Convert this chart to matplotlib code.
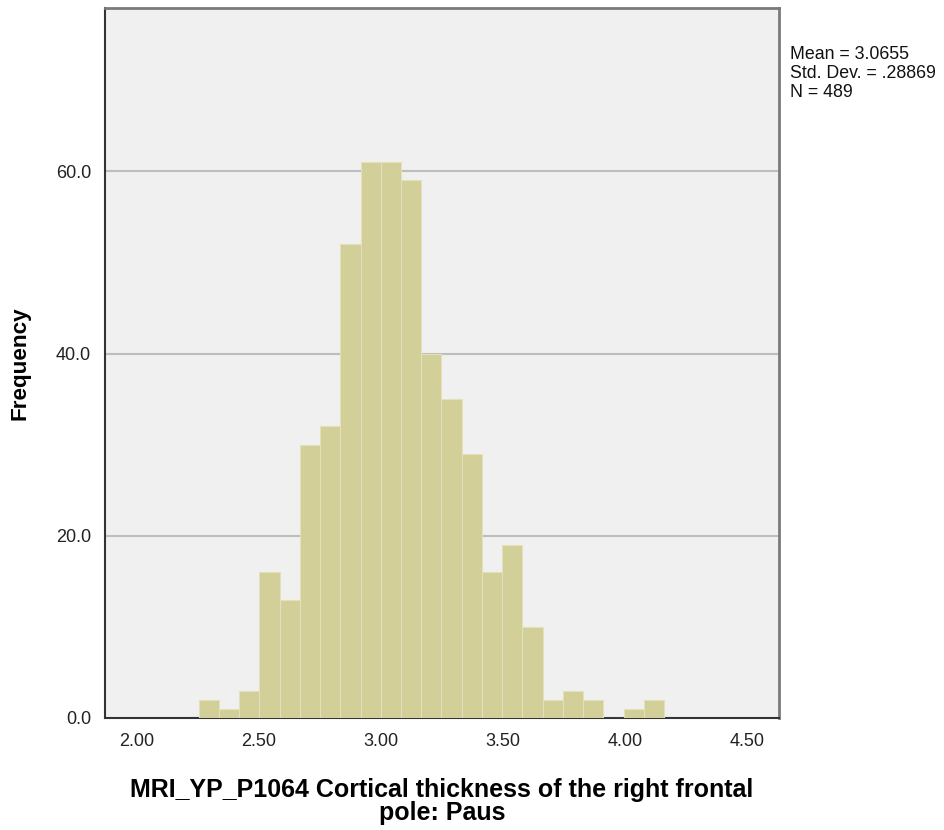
import matplotlib
matplotlib.use("Agg")
import matplotlib.pyplot as plt
import numpy as np

plt.rcParams['font.family'] = ['Liberation Sans', 'DejaVu Sans']

# Histogram data
bin_start = 2.254
bin_width = 0.0829
counts = [2, 1, 3, 16, 13, 30, 32, 52, 61, 61, 59, 40, 35, 29, 16, 19, 10, 2, 3, 2, 0, 1, 2]
x_ticks = [2.00, 2.50, 3.00, 3.50, 4.00, 4.50]
y_ticks = [0, 20, 40, 60]
stats_text = "Mean = 3.0655\nStd. Dev. = .28869\nN = 489"
x_label = "MRI_YP_P1064 Cortical thickness of the right frontal\npole: Paus"

edges = bin_start + bin_width * np.arange(len(counts))

fig = plt.figure(figsize=(9.45, 8.3), dpi=100)
ax = fig.add_axes([0.111, 0.135, 0.713, 0.855])
ax.set_facecolor('#F0F0F0')

ax.bar(edges, counts, width=bin_width, align='edge',
       color='#D3CF98', edgecolor='#E3E0BC', linewidth=0.8, zorder=3)

ax.set_xlim(1.869, 4.631)
ax.set_ylim(0, 77.9)
ax.set_xticks(x_ticks)
ax.set_xticklabels([f"{v:.2f}" for v in x_ticks])
ax.set_yticks(y_ticks)
ax.set_yticklabels([f"{v:.1f}" for v in y_ticks])
ax.tick_params(length=0, labelsize=13, colors='#222222')
ax.tick_params(axis='x', pad=11)
ax.tick_params(axis='y', pad=10)

for y in y_ticks[1:]:
    ax.axhline(y, color='#BDBDBD', linewidth=1.5, zorder=1)

for side in ['left', 'bottom']:
    ax.spines[side].set_color('#333333')
    ax.spines[side].set_linewidth(1.5)
for side in ['top', 'right']:
    ax.spines[side].set_color('#7A7A7A')
    ax.spines[side].set_linewidth(2)

ax.set_ylabel('Frequency', fontsize=16.2, fontweight='bold', labelpad=18)
ax.set_xlabel(x_label, fontsize=18, fontweight='bold', labelpad=20,
              linespacing=0.93)

fig.text(0.836, 0.944, stats_text, fontsize=12.8, va='top', ha='left',
         linespacing=1.13, color='#111111')

fig.savefig('out.png', dpi=100, facecolor='white')
